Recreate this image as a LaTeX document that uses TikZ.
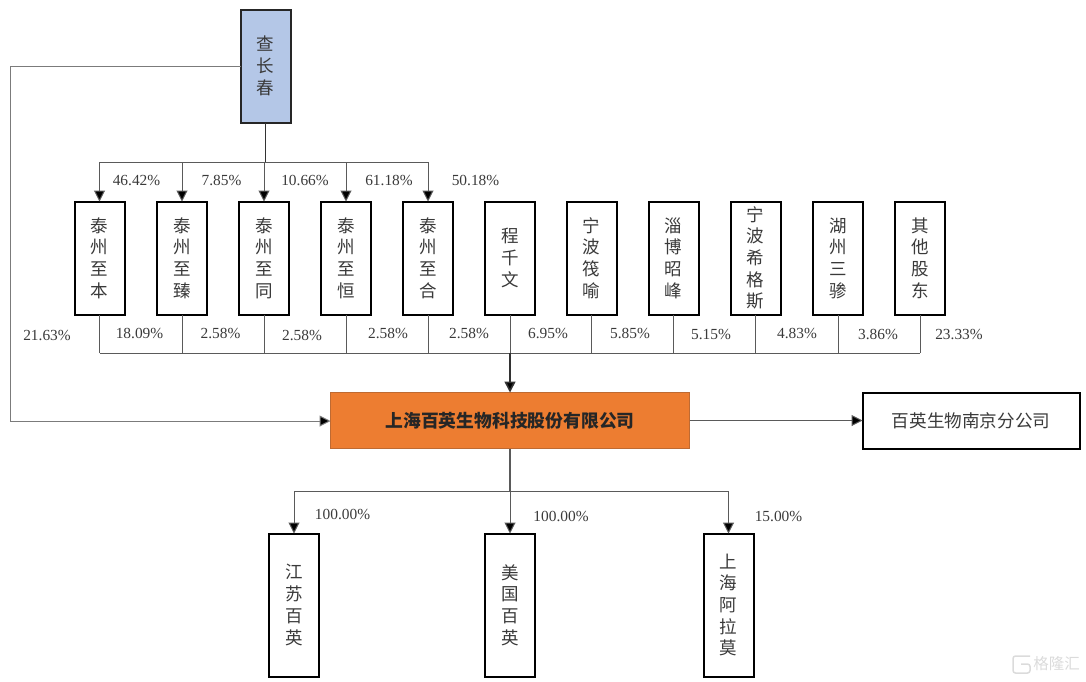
\documentclass[tikz,border=0pt]{standalone}
\usepackage{fontspec}
\setmainfont{Liberation Serif}
\newfontfamily\cjk{Noto Sans CJK SC}
\usetikzlibrary{arrows.meta,calc}
\definecolor{linegray}{HTML}{5A5A5A}
\definecolor{txtgray}{HTML}{3A3A3A}
\definecolor{blueF}{HTML}{B4C7E7}
\definecolor{orangeF}{HTML}{ED7D31}
\definecolor{orangeD}{HTML}{BE6A32}
\tikzset{
  x=1pt,y=-1pt,
  holder/.style={draw=black,line width=2pt,fill=white,minimum width=50pt,minimum height=113pt,inner sep=0pt,outer sep=0pt,
    align=center,text=txtgray,font=\cjk\fontsize{17.5}{21.7}\selectfont},
  subco/.style={holder,minimum height=143pt},
  founder/.style={holder,fill=blueF,draw=black!85},
  mainco/.style={draw=orangeD,line width=1pt,fill=orangeF,minimum width=359pt,minimum height=56pt,inner sep=0pt,outer sep=0pt,
    font=\cjk\bfseries\fontsize{17.8}{20}\selectfont,text=black!85},
  branch/.style={holder,minimum width=217pt,minimum height=56pt,font=\cjk\fontsize{17.6}{20}\selectfont},
  pct/.style={font=\fontsize{15.4}{17}\selectfont,text=txtgray,inner sep=0pt},
  conn/.style={draw=linegray,line width=1pt},
  heavy/.style={draw=black!80,line width=1.6pt},
  tip/.style={-{Triangle[length=11pt,width=11pt,fill=black]}},
}
\begin{document}
\begin{tikzpicture}
\useasboundingbox (0,0) rectangle (1086,681);
% nodes
\node[founder] (zha) at (265.5,66) {查\\长\\春};
\node[holder] (h1) at (99.5,258) {泰\\州\\至\\本};
\node[holder] (h2) at (182,258) {泰\\州\\至\\臻};
\node[holder] (h3) at (264,258) {泰\\州\\至\\同};
\node[holder] (h4) at (346,258) {泰\\州\\至\\恒};
\node[holder] (h5) at (428,258) {泰\\州\\至\\合};
\node[holder] (h6) at (510,258) {程\\千\\文};
\node[holder] (h7) at (591.5,258) {宁\\波\\筏\\喻};
\node[holder] (h8) at (673.5,258) {淄\\博\\昭\\峰};
\node[holder] (h9) at (755.5,258) {宁\\波\\希\\格\\斯};
\node[holder] (h10) at (838,258) {湖\\州\\三\\骖};
\node[holder] (h11) at (920,258) {其\\他\\股\\东};
\node[mainco] (main) at (510,420.5) {上海百英生物科技股份有限公司};
\node[branch] (nj) at (971,420.5) {百英生物南京分公司};
\node[subco] (s1) at (294,605) {江\\苏\\百\\英};
\node[subco] (s2) at (510,605) {美\\国\\百\\英};
\node[subco] (s3) at (728.5,605) {上\\海\\阿\\拉\\莫};
% bus coordinates
\coordinate (topbus) at (265.5,162);
\coordinate (midbus) at (510,353);
\coordinate (botbus) at (510,491);
\coordinate (leftcorner) at (10,66);
\coordinate (leftlow) at (10,421);
% founder to holders
\draw[heavy,line width=1.3pt] (zha.south) -- (topbus);
\draw[conn] (h1.north |- topbus) -- (h5.north |- topbus);
\foreach \n in {h1,h2,h3,h4,h5}
  \draw[conn,tip] (\n.north |- topbus) -- (\n.north);
% founder direct to main
\draw[conn,draw=linegray!80,tip] (zha.west |- leftcorner) -- (leftcorner) -- (leftlow) -- (main.west |- leftlow);
% holders to main
\draw[conn] (h1.south |- midbus) -- (h11.south |- midbus);
\foreach \n in {h1,h2,h3,h4,h5,h6,h7,h8,h9,h10,h11}
  \draw[conn,line width=.8pt] (\n.south) -- (\n.south |- midbus);
\draw[heavy,tip] (midbus) -- (main.north);
% main to branch
\draw[conn,tip] (main.east) -- (nj.west);
% main to subs
\draw[conn,line width=1.3pt] (main.south) -- (botbus);
\draw[conn] (s1.north |- botbus) -- (s3.north |- botbus);
\foreach \n in {s1,s2,s3}
  \draw[conn,tip] (\n.north |- botbus) -- (\n.north);
% labels
\node[pct] (p1) at (136.5,180.5) {46.42\%};
\node[pct] (p2) at (221.5,180.5) {7.85\%};
\node[pct] (p3) at (305,180.5) {10.66\%};
\node[pct] (p4) at (389,180.5) {61.18\%};
\node[pct] (p5) at (475.5,180.5) {50.18\%};
\node[pct] (q0) at (47,335.5) {21.63\%};
\node[pct] (q1) at (139.5,333.5) {18.09\%};
\node[pct] (q2) at (220.5,333.5) {2.58\%};
\node[pct] (q3) at (302,335) {2.58\%};
\node[pct] (q4) at (388,333.5) {2.58\%};
\node[pct] (q5) at (469,333.5) {2.58\%};
\node[pct] (q6) at (548,333.5) {6.95\%};
\node[pct] (q7) at (630,333.5) {5.85\%};
\node[pct] (q8) at (711,334.5) {5.15\%};
\node[pct] (q9) at (797,333.5) {4.83\%};
\node[pct] (q10) at (878,334) {3.86\%};
\node[pct] (q11) at (959,334) {23.33\%};
\node[pct] (r1) at (342.5,514.5) {100.00\%};
\node[pct] (r2) at (561,516) {100.00\%};
\node[pct] (r3) at (778.5,516) {15.00\%};
% watermark
\node[font=\cjk\fontsize{15.5}{16}\selectfont,text=black!14,inner sep=0pt] (wm) at (1056.5,664) {格隆汇};
\draw[draw=black!14,line width=1.5pt,rounded corners=2.5pt] (1030,656) -- (1013,656) -- (1013,673) -- (1030,673) -- (1030,664) -- (1021,664);
\end{tikzpicture}
\end{document}
